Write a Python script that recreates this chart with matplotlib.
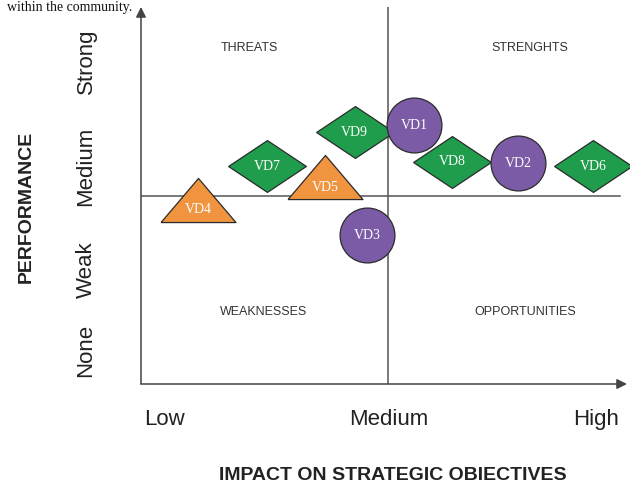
import matplotlib
matplotlib.use("Agg")
import matplotlib.pyplot as plt

# Data: impact (x) and performance (y) on a 0-10 scale
circle_names = ["VD1", "VD2", "VD3"]
circle_x = [5.62, 7.76, 4.65]
circle_y = [6.87, 5.86, 3.95]

diamond_names = ["VD6", "VD7", "VD8", "VD9"]
diamond_x = [9.30, 2.59, 6.40, 4.40]
diamond_y = [5.78, 5.78, 5.89, 6.68]

triangle_names = ["VD4", "VD5"]
triangle_x = [1.17, 3.79]
triangle_y = [4.88, 5.48]

x_tick_pos = [0.49, 5.09, 9.36]
x_tick_labels = ["Low", "Medium", "High"]
y_tick_pos = [8.57, 5.76, 3.02, 0.88]
y_tick_labels = ["Strong", "Medium", "Weak", "None"]

quadrant_names = ["THREATS", "STRENGHTS", "WEAKNESSES", "OPPORTUNITIES"]
quadrant_x = [2.24, 8.00, 2.53, 7.90]
quadrant_y = [8.91, 8.91, 1.91, 1.91]

mid_x = 5.08
mid_y = 5.0

GREEN = "#1f9d4c"
PURPLE = "#7b5ba6"
ORANGE = "#f0943f"
EDGE = "#2b2b2b"
LINE = "#555555"

diamond_marker = [(-1.5, 0), (0, 1), (1.5, 0), (0, -1), (-1.5, 0)]
triangle_marker = [(-0.85, -0.5), (0.85, -0.5), (0, 0.5), (-0.85, -0.5)]


def label_points(ax, names, xs, ys, dy=0):
    for name, x, y in zip(names, xs, ys):
        ax.annotate(name, (x, y), xytext=(0, dy), textcoords="offset points",
                    ha="center", va="center", color="white", fontsize=10,
                    family="Liberation Serif", zorder=5, annotation_clip=False)


def plot_matrix():
    fig = plt.figure(figsize=(6.3, 4.83), dpi=100)
    ax = fig.add_axes([141 / 630, 99 / 483, 486 / 630, 377 / 483])
    ax.set_xlim(0, 10)
    ax.set_ylim(0, 10)
    for s in ax.spines.values():
        s.set_visible(False)

    # axes with arrows
    ax.annotate("", xy=(0, 1), xytext=(0, 0), xycoords="axes fraction",
                arrowprops=dict(arrowstyle="-|>,head_length=0.6,head_width=0.3",
                                color="#444444", lw=1.1, shrinkA=0, shrinkB=0))
    ax.annotate("", xy=(1, 0), xytext=(0, 0), xycoords="axes fraction",
                arrowprops=dict(arrowstyle="-|>,head_length=0.6,head_width=0.3",
                                color="#444444", lw=1.1, shrinkA=0, shrinkB=0))
    ax.axvline(mid_x, color=LINE, lw=1.1, zorder=1)
    ax.axhline(mid_y, xmin=0, xmax=0.986, color=LINE, lw=1.1, zorder=1)

    ax.scatter(diamond_x, diamond_y, s=3136, marker=diamond_marker, color=GREEN,
               edgecolor=EDGE, linewidth=0.9, zorder=3, clip_on=False)
    ax.scatter(triangle_x, triangle_y, s=2916, marker=triangle_marker, color=ORANGE,
               edgecolor=EDGE, linewidth=0.9, zorder=3, clip_on=False)
    ax.scatter(circle_x, circle_y, s=1560, marker="o", color=PURPLE,
               edgecolor=EDGE, linewidth=0.9, zorder=4, clip_on=False)

    label_points(ax, diamond_names, diamond_x, diamond_y)
    label_points(ax, triangle_names, triangle_x, triangle_y, dy=-7)
    label_points(ax, circle_names, circle_x, circle_y)

    for name, x, y in zip(quadrant_names, quadrant_x, quadrant_y):
        ax.text(x, y, name, ha="center", va="center", fontsize=9,
                family=["Liberation Sans Narrow", "Liberation Sans"], color="#333333")

    ax.set_xticks(x_tick_pos, x_tick_labels, fontsize=16, family="Liberation Sans",
                  color="#222222")
    ax.set_yticks(y_tick_pos, y_tick_labels, fontsize=16, family="Liberation Sans",
                  color="#222222", rotation=90, va="center")
    ax.tick_params(axis="x", length=0, pad=18)
    ax.tick_params(axis="y", length=0, pad=32)

    fig.text(393 / 630, 1 - 475 / 483, "IMPACT ON STRATEGIC OBIECTIVES", ha="center",
             va="center", fontsize=14, fontweight="bold", family="Liberation Sans",
             color="#222222")
    fig.text(26 / 630, 1 - 207 / 483, "PERFORMANCE", ha="center", va="center",
             rotation=90, fontsize=14, fontweight="bold", family="Liberation Sans",
             color="#222222")
    # caption line from the page above the figure (cut off in the source)
    fig.text(7 / 630, 1 - 11 / 483, "within the community.", ha="left", va="baseline",
             fontsize=10, family="Liberation Serif", color="#111111")

    fig.savefig("out.png", dpi=100)


if __name__ == "__main__":
    plot_matrix()
